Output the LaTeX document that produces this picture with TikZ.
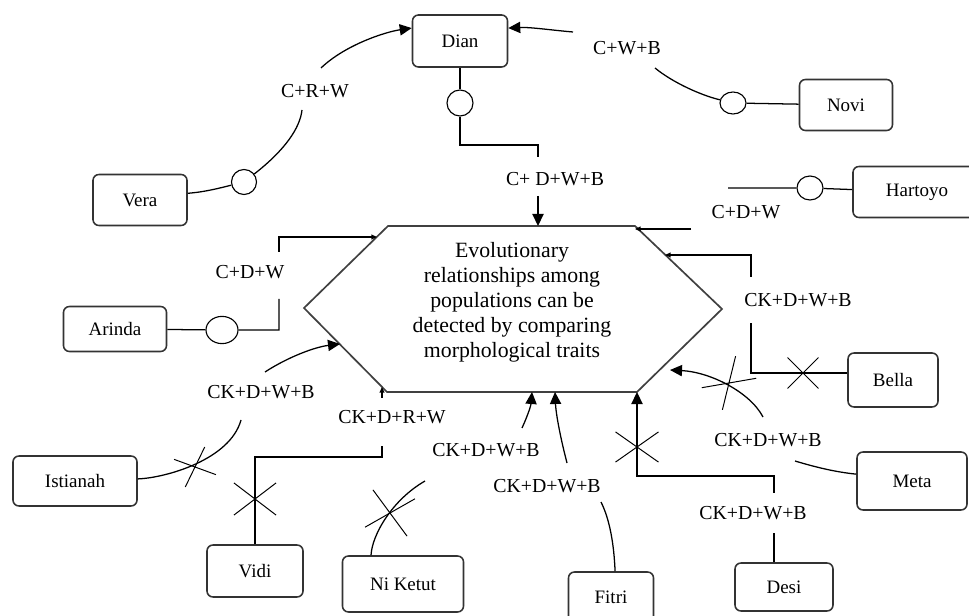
\documentclass[tikz,border=0pt]{standalone}
\usepackage{fontspec}
\setmainfont{Liberation Serif}
\usepackage{tikz}
\usetikzlibrary{shapes.geometric, shapes.misc, arrows.meta}

\newcommand{\boxfont}{\fontsize{13.5}{16}\selectfont}
\newcommand{\lblfont}{\fontsize{14.1}{16}\selectfont}
\newcommand{\hexfont}{\fontsize{15.5}{17.8}\selectfont}

\begin{document}
\begin{tikzpicture}[
    x=0.025cm, y=-0.025cm,
    box/.style={rectangle, rounded corners=0.15cm, draw=black!80, line width=1.1pt, fill=white, font=\boxfont, minimum width=2.4cm, minimum height=1.3cm},
    ring/.style={ellipse, draw, line width=0.8pt, fill=white, inner sep=0pt, minimum width=0.65cm, minimum height=0.65cm},
    xmark/.style={cross out, draw, line width=0.7pt, inner sep=0pt},
    lbl/.style={font=\lblfont, inner sep=1pt},
    link/.style={line width=0.9pt},
    arrow/.style={link, -{Triangle[length=0.3cm,width=0.28cm]}},
    tinyarrow/.style={link, -{Triangle[length=0.14cm,width=0.12cm]}}
]
\useasboundingbox (0,0) rectangle (969,616);

% Hypothesis
\coordinate (h1) at (388,226);
\coordinate (h2) at (635,226);
\coordinate (h3) at (722,309);
\coordinate (h4) at (637,392);
\coordinate (h5) at (387,392);
\coordinate (h6) at (304,308);
\draw[line width=1.2pt, draw=black!75] (h1) -- (h2) -- (h3) -- (h4) -- (h5) -- (h6) -- cycle;
\node[align=center, font=\hexfont] (hypo) at (512,302) {Evolutionary\\relationships among\\populations can be\\detected by comparing\\morphological traits};

% Populations
\node[box, minimum width=2.375cm] (dian) at (460,41) {Dian};
\node[box, minimum width=2.325cm, minimum height=1.275cm] (novi) at (846,105) {Novi};
\node[box, minimum width=2.35cm, minimum height=1.275cm] (vera) at (140,200) {Vera};
\node[box, minimum width=3.2cm, minimum height=1.275cm] (hartoyo) at (917,192) {Hartoyo};
\node[box, minimum width=2.575cm, minimum height=1.125cm] (arinda) at (115,329) {Arinda};
\node[box, minimum width=2.25cm, minimum height=1.35cm] (bella) at (893,380) {Bella};
\node[box, minimum width=3.1cm, minimum height=1.25cm] (istianah) at (75,481) {Istianah};
\node[box] (vidi) at (255,571) {Vidi};
\node[box, minimum width=3.025cm, minimum height=1.4cm] (niketut) at (403,584) {Ni Ketut};
\node[box, minimum width=2.125cm, minimum height=1.25cm] (fitri) at (611,597) {Fitri};
\node[box, minimum width=2.45cm, minimum height=1.2cm] (desi) at (784,587) {Desi};
\node[box, minimum width=2.75cm, minimum height=1.45cm] (meta) at (912,481) {Meta};

% Circles
\node[ring, minimum width=0.625cm, minimum height=0.625cm] (cV) at (244,182) {};
\node[ring] (cD) at (460,103) {};
\node[ring, minimum height=0.55cm] (cN) at (733,103) {};
\node[ring, minimum height=0.6cm] (cH) at (810,188) {};
\node[ring, minimum width=0.8cm, minimum height=0.68cm] (cA) at (222,330) {};

% Crosses
\node[xmark, minimum width=0.75cm, minimum height=0.75cm] (xB) at (803,373) {};
\node[xmark, minimum width=1.13cm, minimum height=0.73cm, rotate=43] (xM) at (729,383) {};
\node[xmark, minimum width=1.05cm, minimum height=0.73cm] (xS) at (637,447) {};
\node[xmark, minimum width=1.05cm, minimum height=0.93cm, rotate=-12] (xK) at (390,513) {};
\node[xmark, minimum width=1.03cm, minimum height=0.78cm] (xV) at (255,499) {};
\node[xmark, minimum width=0.8cm, minimum height=0.72cm, rotate=22] (xI) at (195,467) {};

% Labels
\node[lbl] (lVera) at (315,91) {C+R+W};
\node[lbl] (lNovi) at (627,48) {C+W+B};
\node[lbl] (lDian) at (555,179) {C+ D+W+B};
\node[lbl] (lHartoyo) at (746,212) {C+D+W};
\node[lbl] (lArinda) at (250,272) {C+D+W};
\node[lbl] (lBella) at (798,300) {CK+D+W+B};
\node[lbl] (lMeta) at (768,440) {CK+D+W+B};
\node[lbl] (lDesi) at (753,513) {CK+D+W+B};
\node[lbl] (lFitri) at (547,486) {CK+D+W+B};
\node[lbl] (lNiketut) at (486,450) {CK+D+W+B};
\node[lbl] (lVidi) at (392,417) {CK+D+R+W};
\node[lbl] (lIstianah) at (261,392) {CK+D+W+B};

% Break points
\coordinate (kVera1) at (302,110);
\coordinate (kVera2) at (321,68);
\coordinate (kNovi1) at (655,68);
\coordinate (kNovi2) at (573,32);
\coordinate (kDian1) at (538,157);
\coordinate (kDian2) at (538,196);
\coordinate (hDian) at (538,226);
\coordinate (kHart1) at (728,188);
\coordinate (kHart2) at (691,229);
\coordinate (hHart) at (635,229);
\coordinate (kArin1) at (279,299);
\coordinate (kArin2) at (279,252);
\coordinate (hArin) at (377,237);
\coordinate (kBel1) at (751,323);
\coordinate (kBel2) at (751,277);
\coordinate (hBel) at (665,255);
\coordinate (kMeta1) at (795,461);
\coordinate (kMeta2) at (763,417);
\coordinate (hMeta) at (670,370);
\coordinate (kDesi1) at (774,533);
\coordinate (kDesi2) at (774,493);
\coordinate (kDesi3) at (637,476);
\coordinate (kFit1) at (601,502);
\coordinate (kFit2) at (567,463);
\coordinate (hFit) at (555,392);
\coordinate (kNik1) at (425,481);
\coordinate (kNik2) at (522,428);
\coordinate (hNik) at (532,392);
\coordinate (kVidi1) at (382,457);
\coordinate (kVidi2) at (382,446);
\coordinate (kVidi3) at (382,398);
\coordinate (hVidi) at (382,387);
\coordinate (kIst1) at (241,420);
\coordinate (kIst2) at (265,372);
\coordinate (hIst) at (340,344);

% Connectors
\draw[link] (vera.8) .. controls (205,192) and (220,188) .. (cV);
\draw[link] (cV) .. controls (285,150) and (300,128) .. (kVera1);
\draw[arrow] (kVera2) .. controls (345,45) and (385,32) .. (dian.165);

\draw[link] (novi) -- (cN);
\draw[link] (cN) .. controls (700,95) and (672,82) .. (kNovi1);
\draw[arrow] (kNovi2) .. controls (550,30) and (530,27) .. (dian.15);

\draw[link] (dian) -- (cD);
\draw[link] (cD) -- ++(0,42) -| (kDian1);
\draw[arrow] (kDian2) -- (hDian);

\draw[link] (hartoyo) -- (cH) -- (kHart1);
\draw[tinyarrow] (kHart2) -- (hHart);

\draw[link] (arinda) -- (cA) -| (kArin1);
\draw[tinyarrow] (kArin2) |- (hArin);

\draw[link] (bella.west |- xB) -| (kBel1);
\draw[tinyarrow] (kBel2) |- (hBel);

\draw[link] (meta.173) .. controls (835,472) and (815,467) .. (kMeta1);
\draw[arrow] (kMeta2) .. controls (750,392) and (710,372) .. (hMeta);

\draw[link] (desi.north -| kDesi1) -- (kDesi1);
\draw[arrow] (kDesi2) |- (kDesi3) -- (h4);

\draw[link] (fitri.81) .. controls (614,545) and (610,520) .. (kFit1);
\draw[arrow] (kFit2) .. controls (561,440) and (556,415) .. (hFit);

\draw[link] (niketut.138) .. controls (372,535) and (392,500) .. (kNik1);
\draw[arrow] (kNik2) .. controls (528,415) and (531,405) .. (hNik);

\draw[link] (vidi) |- (kVidi1) -- (kVidi2);
\draw[tinyarrow] (kVidi3) -- (hVidi);

\draw[link] (istianah) .. controls (165,478) and (230,460) .. (kIst1);
\draw[arrow] (kIst2) .. controls (288,357) and (315,347) .. (hIst);

\end{tikzpicture}
\end{document}
